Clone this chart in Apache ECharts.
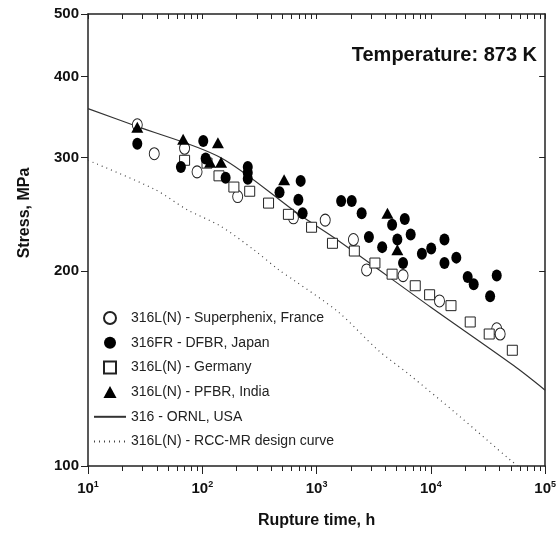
<!DOCTYPE html>
<html>
<head>
<meta charset="utf-8">
<script src="https://cdn.jsdelivr.net/npm/echarts@6/dist/echarts.min.js"></script>
<style>
  html, body { margin: 0; padding: 0; background: #fff; }
  #chart { width: 559px; height: 534px; }
</style>
</head>
<body>
<div id="chart"></div>
<script>
// rupture data at 873 K (time in h, stress in MPa)
var franceX = [27, 38, 70, 90, 204, 627, 1190, 2100, 2740, 5710, 11900, 37700, 40400];
var franceY = [337, 304, 310, 285, 261, 242, 240, 224, 201, 197, 180, 163, 160];

var japanX = [27, 65, 102, 107, 160, 250, 250, 250, 474, 693, 726, 755, 1640, 2030, 2480, 2870, 3750, 4580, 5090, 5710, 5910, 6660, 8350, 10070, 13150, 13150, 16700, 21000, 23700, 33000, 37700];
var japanY = [315, 290, 318, 299, 279, 290, 284, 278, 265, 258, 276, 246, 257, 257, 246, 226, 218, 236, 224, 206, 241, 228, 213, 217, 224, 206, 210, 196, 191, 183, 197];

var germanyX = [70, 110, 140, 189, 260, 380, 567, 904, 1377, 2140, 3240, 4580, 7300, 9750, 15000, 22100, 32400, 51600];
var germanyY = [297, 294, 281, 270, 266, 255, 245, 234, 221, 215, 206, 198, 190, 184, 177, 167, 160, 151];

var indiaX = [27, 68, 117, 137, 146, 520, 4170, 5090];
var indiaY = [334, 320, 295, 316, 295, 277, 246, 216];

var ornlX = [10, 27, 144, 700, 1500, 10000, 53000, 100000];
var ornlY = [357, 335, 300, 245, 224, 176, 143, 131];

var rccX = [10, 38, 74, 144, 282, 468, 627, 1550, 3460, 6310, 17200, 50000, 58000];
var rccY = [297, 268, 249, 235, 216, 201, 194, 173, 151, 139, 120, 102, 100];

var xMajor = [10, 100, 1000, 10000, 100000];
var xMinor = [];
for (var d = 10; d < 100000; d *= 10) {
	for (var k = 2; k <= 9; k++) xMinor.push(k * d);
}
var yTicks = [100, 200, 300, 400, 500];

function pairs(xs, ys) {
	var out = [];
	for (var i = 0; i < xs.length; i++) out.push([xs[i], ys[i]]);
	return out;
}

var chart = echarts.init(document.getElementById('chart'));
var ink = '#222';
var font = '"Liberation Sans", Arial, sans-serif';
var squareIcon = 'path://M0,0L10,0L10,10L0,10Z';
var triIcon = 'path://M6,0L12,11L0,11Z';
var hidden = { color: 'rgba(0,0,0,0)', borderColor: 'rgba(0,0,0,0)', borderWidth: 0 };

var option = {
	animation: false,
	backgroundColor: '#fff',
	textStyle: { fontFamily: font },
	grid: { left: 88, top: 14, right: 12, bottom: 67 },
	xAxis: [{
		type: 'log', logBase: 10, min: 10, max: 100000, position: 'bottom',
		axisLine: { lineStyle: { color: ink, width: 1.5 } },
		axisTick: { inside: false, length: 8, lineStyle: { color: ink }, customValues: xMajor },
		axisLabel: {
			margin: 14, color: '#111', customValues: xMajor,
			formatter: function (v) {
				return '{b|10}{sup|' + Math.round(Math.log10(v)) + '}';
			},
			rich: {
				b: { fontSize: 15, fontWeight: 'bold', fontFamily: font, color: '#111' },
				sup: { fontSize: 9, fontWeight: 'bold', fontFamily: font, color: '#111', padding: [0, 0, 9, 0] }
			}
		},
		splitLine: { show: false },
		name: 'Rupture time, h', nameLocation: 'middle', nameGap: 47,
		nameTextStyle: { fontSize: 16, fontWeight: 'bold', color: '#111', fontFamily: font }
	}, {
		type: 'log', logBase: 10, min: 10, max: 100000, position: 'bottom',
		axisLine: { show: false },
		axisTick: { inside: false, length: 5, lineStyle: { color: ink }, customValues: xMinor },
		axisLabel: { show: false },
		splitLine: { show: false }
	}, {
		type: 'log', logBase: 10, min: 10, max: 100000, position: 'top',
		axisLine: { lineStyle: { color: ink, width: 1.5 } },
		axisTick: { inside: true, length: 5, lineStyle: { color: ink }, customValues: xMinor.concat(xMajor) },
		axisLabel: { show: false },
		splitLine: { show: false }
	}],
	yAxis: [{
		type: 'log', logBase: 10, min: 100, max: 500, position: 'left',
		axisLine: { lineStyle: { color: ink, width: 1.5 } },
		axisTick: { inside: false, length: 7, lineStyle: { color: ink }, customValues: yTicks },
		axisLabel: {
			margin: 9, customValues: yTicks,
			fontSize: 15, fontWeight: 'bold', color: '#111', fontFamily: font
		},
		splitLine: { show: false }
	}, {
		type: 'log', logBase: 10, min: 100, max: 500, position: 'right',
		axisLine: { lineStyle: { color: ink, width: 1.5 } },
		axisTick: { inside: true, length: 6, lineStyle: { color: ink }, customValues: [200, 300, 400] },
		axisLabel: { show: false },
		splitLine: { show: false }
	}],
	legend: {
		orient: 'vertical', left: 88, top: 306,
		itemWidth: 32, itemHeight: 12, itemGap: 10.7,
		symbolKeepAspect: true,
		textStyle: { fontSize: 14, color: '#222', fontFamily: font },
		data: [
			{ name: '316L(N) - Superphenix, France' },
			{ name: '316FR - DFBR, Japan' },
			{ name: '316L(N) - Germany', icon: squareIcon },
			{ name: '316L(N) - PFBR, India', icon: triIcon },
			{ name: '316 - ORNL, USA', itemStyle: hidden },
			{ name: '316L(N) - RCC-MR design curve', itemStyle: hidden }
		]
	},
	graphic: [{
		type: 'text', x: 25, y: 213, rotation: Math.PI / 2,
		style: {
			text: 'Stress, MPa', fontSize: 16, fontWeight: 'bold', fill: '#111',
			fontFamily: font, align: 'center', verticalAlign: 'middle'
		}
	}, {
		type: 'text', x: 537, y: 55,
		style: {
			text: 'Temperature: 873 K', fontSize: 20, fontWeight: 'bold', fill: '#111',
			fontFamily: font, align: 'right', verticalAlign: 'middle'
		}
	}],
	series: [{
		name: '316 - ORNL, USA', type: 'line', smooth: 0.3, symbol: 'none',
		data: pairs(ornlX, ornlY),
		lineStyle: { color: '#333', width: 1.2 }, itemStyle: { color: '#333' }, z: 1
	}, {
		name: '316L(N) - RCC-MR design curve', type: 'line', smooth: 0.3, symbol: 'none',
		data: pairs(rccX, rccY),
		lineStyle: { color: '#444', width: 1.2, type: [1, 4] }, itemStyle: { color: '#444' }, z: 1
	}, {
		name: '316L(N) - Superphenix, France', type: 'scatter', symbol: 'circle', symbolSize: [10, 12],
		data: pairs(franceX, franceY),
		itemStyle: { color: '#fff', borderColor: '#222', borderWidth: 1, opacity: 1 }, z: 3
	}, {
		name: '316FR - DFBR, Japan', type: 'scatter', symbol: 'circle', symbolSize: [10, 12],
		data: pairs(japanX, japanY),
		itemStyle: { color: '#000', opacity: 1 }, z: 4
	}, {
		name: '316L(N) - Germany', type: 'scatter', symbol: 'rect', symbolSize: [10, 10],
		data: pairs(germanyX, germanyY),
		itemStyle: { color: '#fff', borderColor: '#222', borderWidth: 1, opacity: 1 }, z: 3
	}, {
		name: '316L(N) - PFBR, India', type: 'scatter', symbol: 'triangle', symbolSize: [12, 11],
		data: pairs(indiaX, indiaY),
		itemStyle: { color: '#000', opacity: 1 }, z: 5
	}]
};
chart.setOption(option);
</script>
</body>
</html>
